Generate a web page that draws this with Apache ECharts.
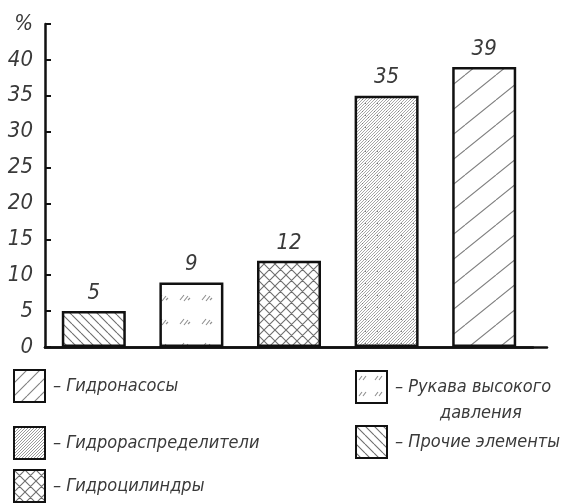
<!DOCTYPE html>
<html><head><meta charset="utf-8">
<script src="https://cdn.jsdelivr.net/npm/echarts@6/dist/echarts.min.js"></script>
<style>html,body{margin:0;padding:0;background:#fff}#c{width:566px;height:503px}</style>
</head><body><div id="c"></div>
<script>
// Data
const categories = ['Прочие элементы', 'Рукава высокого давления', 'Гидроцилиндры', 'Гидрораспределители', 'Гидронасосы'];
const values = [5, 9, 12, 35, 39];
const legendLabels = ['Прочие элементы', 'Рукава высокого', 'Гидроцилиндры', 'Гидрораспределители', 'Гидронасосы'];
const legendExtraLine = 'давления';
const yTicks = [0, 5, 10, 15, 20, 25, 30, 35, 40, 45];

const FONT = "'DejaVu Sans Condensed', Roboto, sans-serif";
const TXT = '#3a3a3a';

function mk(w, h, draw) {
  const c = document.createElement('canvas');
  c.width = w; c.height = h;
  const g = c.getContext('2d');
  g.fillStyle = '#fff'; g.fillRect(0, 0, w, h);
  g.strokeStyle = '#6e6e6e'; g.lineWidth = 1.1;
  draw(g, w, h);
  return { image: c, repeat: 'repeat' };
}
const slash = (col) => (g, w, h) => { g.strokeStyle = col; g.beginPath(); for (let k = -1; k <= 1; k++) { g.moveTo(k * w, h); g.lineTo(k * w + w, 0); } g.stroke(); };
const patterns = [
  mk(9, 9, (g, w, h) => { g.beginPath(); for (let k = -1; k <= 1; k++) { g.moveTo(k * w, 0); g.lineTo(k * w + w, h); } g.stroke(); }),
  mk(22, 24, (g) => { g.strokeStyle = '#8f8f8f'; g.beginPath();
    g.moveTo(4, 12); g.lineTo(8, 7); g.moveTo(8, 13); g.lineTo(12, 8); g.moveTo(12, 12); g.lineTo(14, 10);
    g.stroke(); }),
  mk(11, 11, (g, w, h) => { g.beginPath(); for (let k = -1; k <= 1; k++) { g.moveTo(k * w, 0); g.lineTo(k * w + w, h); g.moveTo(k * w, h); g.lineTo(k * w + w, 0); } g.stroke(); }),
  mk(12, 12, (g, w, h) => { g.strokeStyle = '#a8a8a8'; g.lineWidth = 1; g.beginPath(); for (let k = -4; k <= 4; k++) { g.moveTo(k * 3, h); g.lineTo(k * 3 + w, 0); } g.stroke();
    g.fillStyle = '#7a7a7a'; g.fillRect(2, 3, 1, 1); g.fillRect(8, 9, 1, 1); g.fillRect(5, 7, 1, 1); }),
  mk(31, 25, slash('#808080'))
];
// smaller-scale swatches for legend icons
const legendPatterns = [
  patterns[0],
  mk(16, 16, (g) => { g.strokeStyle = '#8f8f8f'; g.beginPath(); g.moveTo(3, 9); g.lineTo(6, 5); g.moveTo(7, 9); g.lineTo(10, 5); g.stroke(); }),
  patterns[2],
  mk(6, 6, (g, w, h) => { g.strokeStyle = '#9a9a9a'; g.lineWidth = 1; g.beginPath(); for (let k = -2; k <= 2; k++) { g.moveTo(k * 3, h); g.lineTo(k * 3 + w, 0); } g.stroke(); }),
  mk(13, 13, slash('#808080'))
];

const series = categories.map((name, i) => ({
  name: name,
  type: 'bar',
  stack: 'all',
  barWidth: 64,
  data: categories.map((c, j) => j === i ? values[i] : '-'),
  itemStyle: { color: patterns[i], borderColor: '#111', borderWidth: 2.5 },
  label: { show: true, position: 'top', distance: 7, fontFamily: FONT, fontStyle: 'italic', fontWeight: 300, fontSize: 22, color: TXT },
  emphasis: { disabled: true }
}));

const legendPos = [
  { left: 355, top: 425 },
  { left: 355, top: 370 },
  { left: 13, top: 469 },
  { left: 13, top: 426 },
  { left: 13, top: 369 }
];
const legends = categories.map((name, i) => ({
  data: [name],
  left: legendPos[i].left, top: legendPos[i].top,
  padding: 0, itemWidth: 31, itemHeight: 32, selectedMode: false,
  icon: 'rect',
  itemStyle: { color: legendPatterns[i], borderColor: '#111', borderWidth: 2 },
  formatter: () => '– ' + legendLabels[i],
  textStyle: { fontFamily: FONT, fontStyle: 'italic', fontWeight: 300, fontSize: 18, color: TXT, padding: [0, 0, 0, 3] }
}));

const chart = echarts.init(document.getElementById('c'), null, { renderer: 'canvas' });
chart.setOption({
  animation: false,
  backgroundColor: '#fff',
  grid: [
    { left: 45, right: 33, top: 24, bottom: 156 },
    { left: 45, right: 19, top: 24, bottom: 156 }
  ],
  legend: legends,
  graphic: [{
    type: 'text', left: 440, top: 404,
    style: { text: legendExtraLine, font: 'italic 300 18px ' + FONT, fill: TXT }
  }],
  xAxis: [{
    type: 'category', data: categories, gridIndex: 0,
    axisLine: { lineStyle: { color: '#111', width: 2.5 } },
    axisTick: { show: false }, axisLabel: { show: false }
  }, {
    type: 'value', gridIndex: 1, min: 0, max: 1,
    axisLine: { show: true, onZero: false, lineStyle: { color: '#111', width: 2.5 } },
    axisTick: { show: false }, axisLabel: { show: false }, splitLine: { show: false }
  }],
  yAxis: [{
    type: 'value', gridIndex: 0, min: yTicks[0], max: yTicks[yTicks.length - 1], interval: 5,
    splitLine: { show: false },
    axisLine: { show: true, lineStyle: { color: '#111', width: 2.5 } },
    axisTick: { show: true, inside: true, length: 6, lineStyle: { color: '#111', width: 2 } },
    axisLabel: { margin: 12, fontFamily: FONT, fontStyle: 'italic', fontWeight: 300, fontSize: 22, color: TXT,
      formatter: v => v === 45 ? '%' : String(v) }
  }, {
    type: 'value', gridIndex: 1, show: false, min: 0, max: 1
  }],
  series: series
});
</script></body></html>
